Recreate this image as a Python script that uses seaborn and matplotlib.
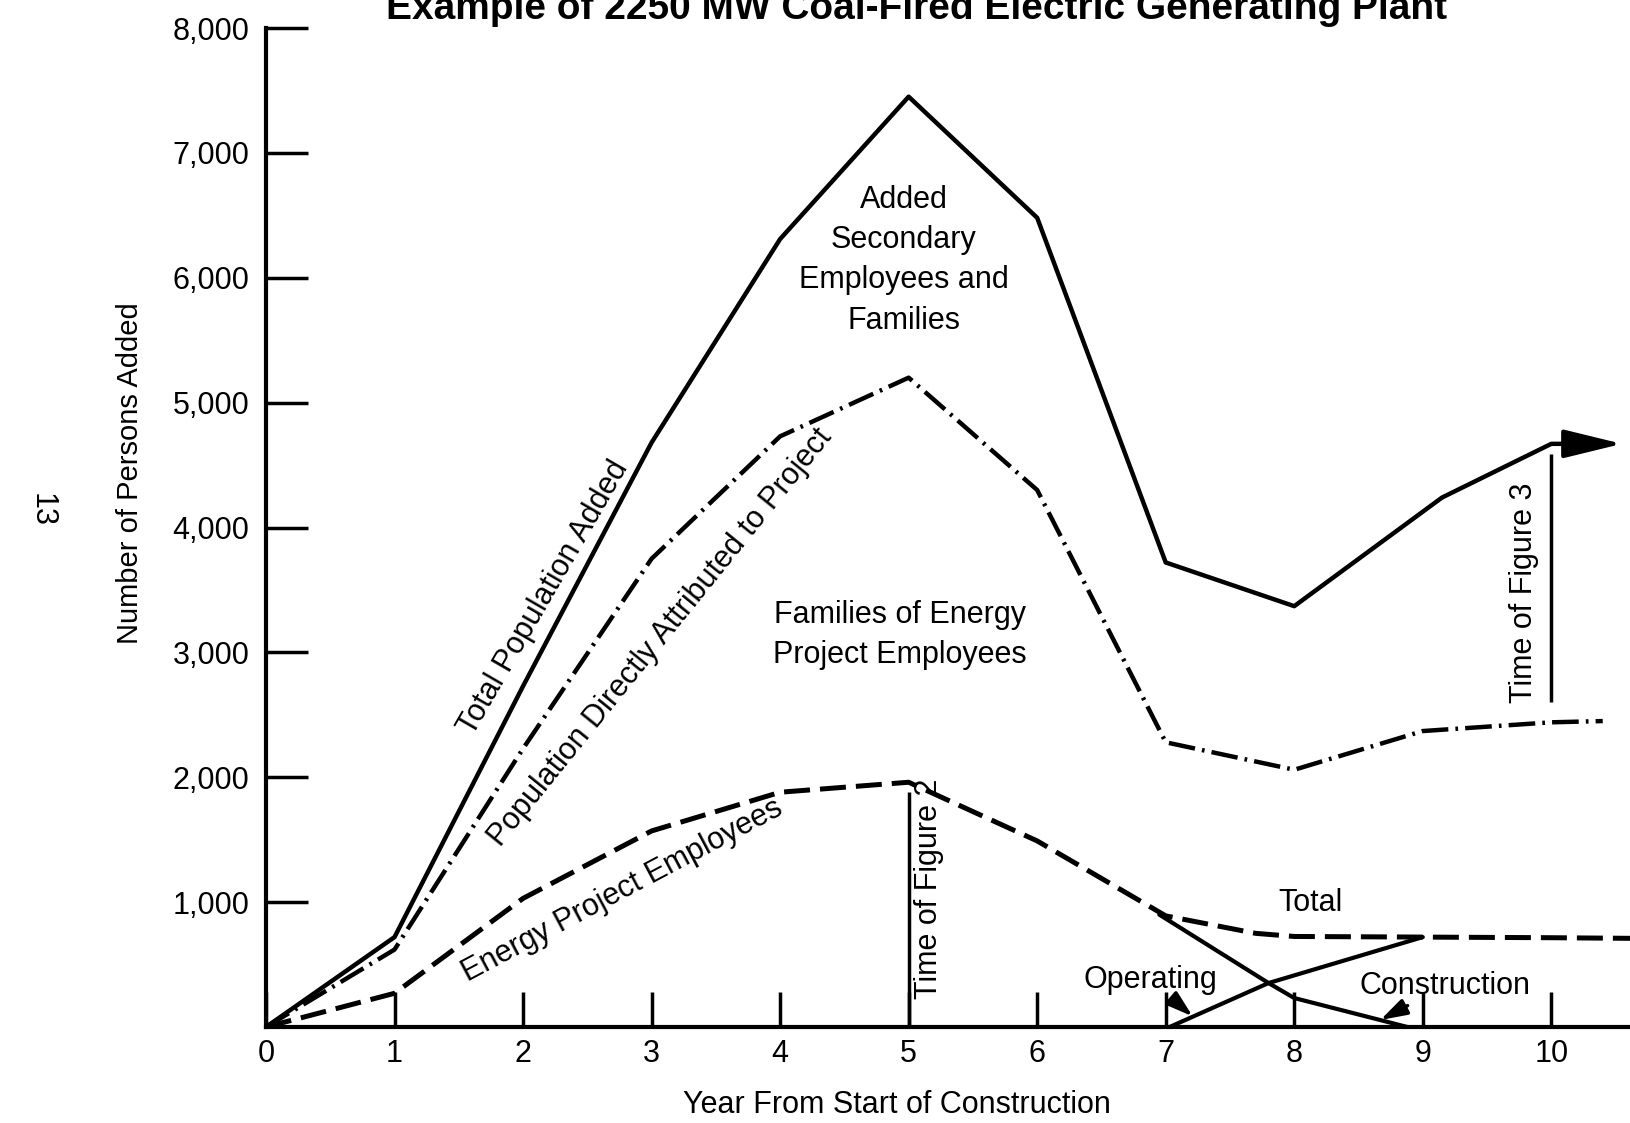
import matplotlib
matplotlib.use("Agg")
import matplotlib.pyplot as plt
from matplotlib import font_manager
from matplotlib.patches import ArrowStyle
import seaborn as sns

# ---------------- data ----------------
years_total = [0, 1, 2, 3, 4, 5, 6, 7, 8, 9.15, 10, 10.3]
total_pop = [0, 720, 2730, 4680, 6310, 7450, 6480, 3720, 3370, 4240, 4670, 4670]

years_direct = [0, 1, 2, 3, 4, 5, 6, 7, 8, 9, 10, 10.4]
direct_pop = [0, 620, 2230, 3750, 4730, 5200, 4300, 2280, 2060, 2370, 2440, 2450]

years_emp = [0, 1, 2, 3, 4, 5, 6, 7, 7.7, 8, 9, 10, 10.62]
emp_pop = [0, 270, 1030, 1570, 1880, 1960, 1490, 890, 750, 725, 720, 715, 710]

years_constr = [6.95, 7.8, 8.0, 8.88]
constr_emp = [900, 352, 232, 0]

years_oper = [7.03, 7.8, 9.0]
oper_emp = [0, 352, 720]

x_ticks = list(range(0, 11))
y_ticks = [1000, 2000, 3000, 4000, 5000, 6000, 7000, 8000]
y_tick_labels = ["1,000", "2,000", "3,000", "4,000", "5,000", "6,000", "7,000", "8,000"]

fig2_year, fig2_top = 5, 1880
fig3_year, fig3_bottom, fig3_top = 10, 2600, 4590

# ---------------- style ----------------
sns.set_theme(style="ticks")
names = {f.name for f in font_manager.fontManager.ttflist}
fam = "Liberation Sans" if "Liberation Sans" in names else "DejaVu Sans"
plt.rcParams["font.family"] = [fam, "DejaVu Sans"]
plt.rcParams["text.color"] = "black"
plt.rcParams["axes.labelcolor"] = "black"

FS = 22
fig = plt.figure(figsize=(16.31, 11.23), dpi=100)
fig.patch.set_facecolor("white")
ax = fig.add_axes([266 / 1631, 96 / 1123, 1365 / 1631, 999 / 1123])
ax.set_facecolor("white")

K = "black"
sns.lineplot(x=years_total, y=total_pop, ax=ax, color=K, lw=3.2, sort=False, estimator=None)
sns.lineplot(x=years_direct, y=direct_pop, ax=ax, color=K, lw=3.2, sort=False, estimator=None,
             linestyle=(0, (6, 1.6, 0.6, 1.6)))
sns.lineplot(x=years_emp, y=emp_pop, ax=ax, color=K, lw=3.6, sort=False, estimator=None,
             linestyle=(0, (5.2, 2.0)))
sns.lineplot(x=years_constr, y=constr_emp, ax=ax, color=K, lw=3.0, sort=False, estimator=None)
sns.lineplot(x=years_oper, y=oper_emp, ax=ax, color=K, lw=3.0, sort=False, estimator=None)

# arrow head on total line
ax.annotate("", xy=(10.55, total_pop[-1]), xytext=(10.25, total_pop[-1]),
            arrowprops=dict(arrowstyle=ArrowStyle("-|>", head_length=0.9, head_width=0.22),
                            mutation_scale=40, color=K, lw=3, shrinkA=0, shrinkB=0))

# time-of-figure markers
ax.vlines(fig2_year, 0, fig2_top, color=K, lw=2.5)
ax.vlines(fig3_year, fig3_bottom, fig3_top, color=K, lw=2.5)
ax.text(5.16, 1105, "Time of Figure 2", rotation=90, ha="center", va="center", fontsize=FS)
ax.text(9.79, 3475, "Time of Figure 3", rotation=90, ha="center", va="center", fontsize=FS)

# axes
ax.set_xlim(0, 10.62)
ax.set_ylim(0, 8000)
ax.set_xticks(x_ticks)
ax.set_xticklabels([str(v) for v in x_ticks])
ax.set_yticks(y_ticks)
ax.set_yticklabels(y_tick_labels)
ax.tick_params(axis="x", direction="in", length=25, width=2.5, pad=9, labelsize=FS, colors=K)
ax.tick_params(axis="y", direction="in", length=30, width=2.5, pad=12, labelsize=FS, colors=K)
for s in ["top", "right"]:
    ax.spines[s].set_visible(False)
for s in ["left", "bottom"]:
    ax.spines[s].set_linewidth(3)
    ax.spines[s].set_color(K)
ax.grid(False)

ax.set_xlabel("Year From Start of Construction", fontsize=FS, color=K)
ax.xaxis.set_label_coords(0.462, -0.078)
ax.xaxis.label.set_va("center")
ax.set_ylabel("Number of Persons Added", fontsize=FS - 1, color=K)
ax.yaxis.set_label_coords(-0.0996, 0.5546)
ax.yaxis.label.set_va("center")

# in-plot labels
ax.text(2.16, 3435, "Total Population Added", rotation=60, ha="center", va="center",
        rotation_mode="anchor", fontsize=FS)
ax.text(3.07, 3123, "Population Directly Attributed to Project", rotation=51, ha="center",
        va="center", rotation_mode="anchor", fontsize=FS)
ax.text(2.77, 1089, "Energy Project Employees", rotation=28, ha="center", va="center",
        rotation_mode="anchor", fontsize=FS)
ax.text(4.96, 6141, "Added\nSecondary\nEmployees and\nFamilies", ha="center", va="center",
        fontsize=FS, linespacing=1.45)
ax.text(4.93, 3140, "Families of Energy\nProject Employees", ha="center", va="center",
        fontsize=FS, linespacing=1.45)
ax.text(8.13, 993, "Total", ha="center", va="center", fontsize=FS)

ax.annotate("Operating", xy=(7.21, 85), xytext=(6.88, 376), ha="center", va="center",
            fontsize=FS,
            arrowprops=dict(arrowstyle=ArrowStyle("-|>", head_length=0.8, head_width=0.25),
                            mutation_scale=20, color=K, lw=2.5, shrinkA=2, shrinkB=0))
ax.annotate("Construction", xy=(8.67, 56), xytext=(9.17, 328), ha="center", va="center",
            fontsize=FS,
            arrowprops=dict(arrowstyle=ArrowStyle("-|>", head_length=0.8, head_width=0.25),
                            mutation_scale=20, color=K, lw=2.5, shrinkA=2, shrinkB=0))

# title (cut off at top of the scanned page, as in the reference) and page number
fig.text(0.562, 1 - 19 / 1123, "Example of 2250 MW Coal-Fired Electric Generating Plant",
         ha="center", va="baseline", fontsize=28, fontweight="bold")
fig.text(0.0257, 0.546, "13", rotation=-90, ha="center", va="center", fontsize=FS)

fig.savefig("out.png", dpi=100, facecolor="white")
